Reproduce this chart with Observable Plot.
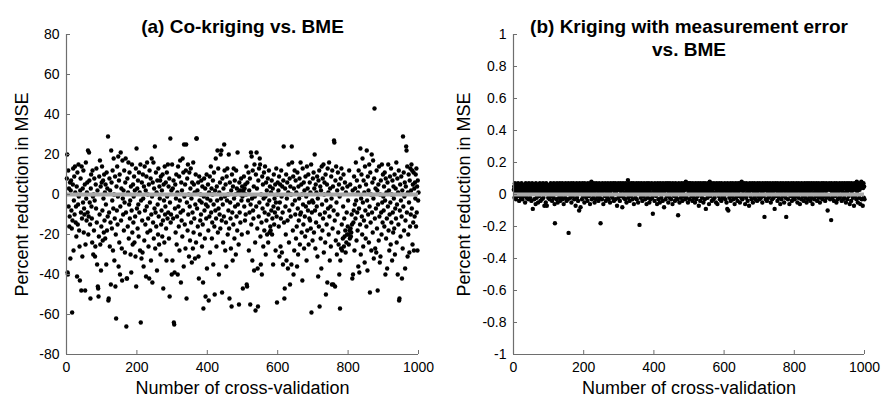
<!DOCTYPE html>
<html><head><meta charset="utf-8">
<script src="https://cdn.jsdelivr.net/npm/d3@7"></script>
<script src="https://cdn.jsdelivr.net/npm/@observablehq/plot@0.6"></script>
<style>
html,body{margin:0;padding:0;background:#fff;}
#wrap{position:relative;width:885px;height:411px;overflow:hidden;font-family:"Liberation Sans",Arial,sans-serif;}
#wrap svg{position:absolute;top:0;}
</style></head><body><div id="wrap"></div>
<script>
// Panel titles and axis labels
const titleA = "(a) Co-kriging vs. BME";
const titleB1 = "(b) Kriging with measurement error";
const titleB2 = "vs. BME";
const xLabel = "Number of cross-validation";
const yLabel = "Percent reduction in MSE";

// Axis ticks / domains
const xDomain = [0, 1000];
const xTicks = [0, 200, 400, 600, 800, 1000];
const yDomainA = [-80, 80];
const yTicksA = [-80, -60, -40, -20, 0, 20, 40, 60, 80];
const yDomainB = [-1, 1];
const yTicksB = [-1, -0.8, -0.6, -0.4, -0.2, 0, 0.2, 0.4, 0.6, 0.8, 1];

// (a) Co-kriging vs. BME: percent reduction in MSE, cross-validation 1..1000
const valuesA = [
8,20,-39,-40,12,-6,3,-16,-11,6,
-32,2,7,-8,-17,-59,-13,5,13,-28,
-3,9,-10,14,1,-14,-6,-21,4,-41,
11,-15,-5,15,-1,-18,-26,-43,2,8,
-9,-48,14,-12,-31,3,-4,12,-19,-7,
-10,5,-48,-25,16,-2,-13,1,6,-9,
22,-20,-11,21,7,-4,-15,-52,3,10,
-6,-12,-24,12,-1,-30,0,-18,8,-3,
-31,-26,5,-7,13,-14,-35,2,-46,-47,
-51,-21,9,-10,17,-25,4,-38,-16,6,
14,-8,-23,7,-2,-19,10,-13,1,-22,
5,-5,-35,11,-18,3,-11,29,-53,-52,
-9,8,-26,2,-14,-45,22,6,-17,-3,
12,-28,-7,18,0,-33,-12,9,-46,-20,
-62,4,-8,14,-15,-1,19,-36,7,-24,
10,-40,-6,21,-13,3,-27,-43,17,-2,
-10,2,-18,12,-4,-29,6,18,-9,-66,
-42,-42,8,-16,1,16,-22,-5,11,-12,
-3,-30,4,-39,-8,15,-19,-25,5,-14,
-1,9,-24,2,-11,-31,13,-46,23,-7,
3,-17,7,-5,-21,11,-9,1,-28,15,
-64,-3,-32,6,-13,-29,10,-2,-36,4,
-23,14,-8,-15,2,-41,9,-6,16,-19,
0,-12,-26,5,-42,12,-4,-18,8,-33,
-10,18,-1,-44,6,-14,16,-22,3,-7,
24,-27,-9,11,-16,1,-38,7,-5,-20,
13,-11,-25,4,-2,7,-30,9,-15,-8,
2,-21,10,-13,-47,5,-3,-24,14,-10,
-6,6,-17,-33,11,-1,-12,15,-9,4,
-22,8,-51,-4,28,-14,-10,2,-40,15,
-33,3,-12,7,-64,-65,-39,-7,5,-19,
-2,10,-25,-11,1,-40,14,-6,-16,9,
-28,-3,17,-9,-44,6,-13,2,-21,18,
-8,11,-36,25,-1,-15,5,-27,12,25,
-52,-4,8,-18,15,-10,0,-31,11,-6,
-23,3,13,-14,-2,-34,6,-9,-27,16,
-19,5,-12,1,-32,-5,10,-24,28,28,
-7,2,-16,6,-31,-42,9,-3,-20,-13,
0,-10,7,-4,-26,4,-15,-44,-57,-1,
8,-8,-22,3,-51,-5,-12,10,-37,-2,
-6,5,-18,-53,1,-11,9,-29,-3,14,
-9,3,-22,-14,0,7,-35,-5,11,-16,
-50,2,-8,18,-12,-26,4,-3,22,-19,
13,-7,-40,1,-10,6,-17,20,-2,22,
-13,-49,8,-5,-24,3,-11,25,12,-1,
-28,5,-14,-36,9,-3,13,-20,0,-8,
20,-17,-52,6,-4,-12,-27,2,-56,10,
-9,-33,4,-15,13,-2,-22,7,-6,0,
-30,12,-11,3,-18,21,-5,1,-25,-55,
6,-9,2,-14,0,8,-3,-20,4,-1,
-47,2,1,9,-6,3,-13,5,-10,0,
14,-45,-46,6,-19,-3,11,-28,2,-9,
8,-55,-5,21,-15,19,-2,-33,12,-8,
-12,4,-38,15,-1,-24,-58,10,-6,21,
3,-17,-37,-56,7,-11,13,-4,18,15,
-21,-35,0,-14,-40,9,-7,5,-26,-2,
11,-18,-9,14,-1,-30,6,-13,2,-20,
-5,8,-24,-10,12,-3,-19,4,-16,-18,
1,-8,7,-20,-12,3,-35,-6,10,-15,
-2,-9,5,-28,-4,13,-11,-54,0,6,
-7,2,-16,9,-31,-4,5,-26,-12,12,
-1,-29,4,-9,-35,7,24,-14,-52,-47,
3,-6,-20,10,-33,-2,6,-13,-37,1,
15,-24,-8,8,-45,4,-11,0,-35,24,
16,-5,-18,9,-40,3,-28,12,-3,-10,
7,-22,1,-16,-36,11,-7,-30,4,-13,
-2,8,-25,-10,16,-9,5,-19,0,-43,
13,-5,-15,6,-27,2,-11,-21,9,-6,
-1,-33,14,-18,3,-8,10,-25,-4,-12,
6,-13,1,-17,15,-59,-9,-3,-23,8,
-4,11,-19,3,20,-8,-27,5,-14,1,
-6,9,-31,-2,-41,7,-16,12,-56,-10,
4,-22,2,-37,14,-5,-18,8,-12,15,
-29,0,6,-9,-24,10,-50,-3,-15,5,
-44,13,-7,1,-20,16,-11,-33,3,-6,
-26,9,-2,-45,12,-17,4,-45,-8,27,
26,-13,-46,7,-23,14,-4,-30,2,-10,
11,-19,-25,5,-40,-1,-57,-33,8,-27,
13,-15,-28,3,-22,-6,10,-26,-12,-21,
6,-18,-29,1,-24,-9,-20,4,-16,-3,
-20,-25,12,-18,-22,5,-17,-21,-19,-10,
-15,-42,2,-40,-14,-8,9,-28,-5,3,
-12,16,-3,-23,7,-9,-18,1,-36,12,
-7,-39,4,-15,23,-30,-2,10,-11,-20,
18,-4,-26,7,-13,1,-34,14,-8,-22,
5,-16,22,-3,-38,9,-10,2,-24,15,
-6,-49,11,-14,0,-28,20,-9,6,-19,
17,-2,-32,8,43,-12,-27,3,-7,-29,
12,-17,2,-48,-5,5,-23,14,-11,-34,
0,-31,7,-9,-20,15,-4,-14,10,-1,
-8,4,-16,11,-3,-40,8,-22,1,-12,
-37,6,-6,15,-18,2,-28,-10,9,-4,
-25,13,-14,0,-33,7,-9,-19,4,-2,
-17,10,-30,-7,3,-12,16,-24,-5,8,
-40,1,-15,12,-53,-52,-8,5,-21,-3,
9,-11,-42,2,-27,29,-6,11,-18,-1,
6,-37,-13,4,24,22,-9,14,-31,1,
-20,10,-4,-29,7,-16,13,-10,2,15,
-7,12,-25,5,-14,11,-28,3,-11,6,
-2,10,-16,13,-9,4,-28,7,-3,1
];

// (b) Kriging with measurement error vs. BME
const valuesB = [
.03,.05,-.02,.07,.04,.01,-.03,.06,.02,.05,
.04,-.01,.07,.03,.06,-.04,.02,.05,.01,.06,
-.02,.04,.07,.03,-.03,.05,.02,.06,-.01,.04,
.06,.01,-.05,.03,.07,.05,-.02,.04,.02,.06,
.03,-.03,.05,.07,.01,.04,-.02,.06,.03,.05,
-.04,.02,.07,.05,-.09,.04,.01,.06,-.03,.03,
.05,.02,-.06,.07,.04,-.02,.06,.01,.05,-.05,
.03,.06,-.01,.04,.07,.02,-.04,.05,.03,.06,
-.03,.04,.01,.07,-.02,.05,.03,-.07,.06,.02,
.04,-.05,.07,.03,-.07,.05,.01,.06,-.02,.04,
.06,.03,-.03,.05,.02,.07,-.01,.04,.06,-.04,
.03,.05,.01,-.02,.07,.04,-.06,-.18,.05,.02,
.06,-.03,.04,.07,.01,-.05,.05,.03,.06,-.02,
.04,.07,-.04,.02,.05,.06,-.01,.03,.07,-.03,
.05,.02,-.06,.04,.06,.01,-.02,.07,.03,.05,
-.04,.06,.02,.04,-.03,.07,-.24,.05,.01,.06,
.03,-.02,.05,.07,-.05,.04,.02,.06,-.01,.03,
.07,.05,-.03,.01,.06,.04,-.07,.02,.05,.07,
-.02,.03,.06,-.04,.04,.01,-.10,.07,.05,.02,
-.08,.06,.03,.04,-.03,.07,.05,-.01,.02,.06,
.04,-.05,.07,.02,.05,.03,-.02,.06,.01,.04,
-.04,.07,.05,.03,-.01,.06,.02,-.06,.04,.07,
.05,.08,-.03,.03,.06,.01,-.02,.04,.07,.05,
-.05,.02,.06,.04,-.03,.07,.03,.05,-.01,.06,
.02,-.04,.04,.07,.05,-.02,.03,-.18,.06,.01,
.05,-.03,.07,.04,.02,-.06,.06,.03,.05,-.01,
.07,.04,-.04,.02,.06,.05,-.02,.03,.07,.01,
-.03,.05,.06,.04,-.05,.02,.07,.03,-.01,.06,
.04,-.02,.05,.07,.03,-.04,.06,.01,.05,.07,
-.03,.04,.02,.06,-.07,.05,.03,.07,-.02,.04,
.06,.03,-.04,.05,.07,.02,-.01,.04,.06,-.08,
.03,.07,.05,-.02,.04,.01,.06,-.03,.07,.05,
.02,-.05,.04,.06,.03,.09,-.02,.05,.07,.01,
-.04,.06,.03,.05,-.01,.07,.04,.02,-.03,.06,
.05,.07,-.06,.03,.04,.01,-.02,.06,.05,.07,
-.03,.02,.04,.06,-.05,.03,.07,.05,-.19,.01,
.04,.06,-.02,.07,.03,.05,-.04,.02,.06,.04,
-.01,.07,.05,.03,-.03,.06,.01,.04,-.06,.07,
.05,.02,-.02,.06,.04,.07,-.05,.03,.05,.01,
-.03,.06,.04,.07,-.02,.05,-.12,.03,.06,.02,
.04,-.04,.07,.05,.02,-.01,.06,.03,-.06,.05,
.07,.01,-.03,.04,.06,.02,-.05,.07,.05,.03,
-.02,.06,.04,.01,-.04,.07,.05,.03,-.08,.06,
.02,.05,-.03,.07,.04,.06,-.01,.03,.05,.07,
-.05,.02,.06,.04,-.02,.07,.03,.05,-.03,.01,
.06,.04,-.06,.07,.05,.02,-.01,.06,.03,-.04,
.05,.07,.01,-.02,.04,.06,-.03,.03,-.13,.05,
.07,.02,-.05,.06,.04,.01,-.02,.05,.07,.03,
-.04,.06,.04,.02,-.01,.07,.05,.03,-.03,.06,
.08,.04,-.02,.06,.03,.07,-.05,.05,.01,.07,
.06,-.03,.04,.07,.02,.05,-.01,.06,.03,-.04,
.07,.05,.01,-.02,.04,.06,-.05,.03,.07,.02,
-.03,.05,.06,.04,-.01,.07,.02,-.07,.05,.03,
.06,-.04,.07,.01,.04,.05,-.02,.03,.06,.07,
-.05,.02,.04,.06,-.03,.07,.05,-.09,.03,.01,
.06,.04,-.02,.07,.05,.03,-.06,.02,.08,.04,
-.01,.06,.05,.07,-.04,.03,.02,.06,-.03,.05,
.07,.04,-.02,.01,.06,.05,-.05,.03,.07,.02,
-.06,.04,.06,.05,-.01,.07,.03,-.03,.02,.06,
.05,-.04,.07,.04,.01,-.02,.06,.03,.05,-.01,
.04,.07,-.03,.05,.02,.06,-.05,.03,-.09,.07,
.01,-.10,.05,.04,-.02,.06,.03,.07,-.04,.02,
.05,.06,-.01,.04,.07,-.03,.03,.05,.02,-.06,
.06,.04,.07,-.02,.01,.05,.03,-.04,.06,.07,
-.01,.02,.05,.04,-.05,.07,.06,.03,-.02,.08,
.04,-.03,.06,.02,.05,-.01,.07,.03,.04,-.06,
.06,.05,-.02,.07,.01,.04,-.04,.03,.06,.05,
-.07,.02,.07,.04,-.01,.05,.06,-.03,.03,.07,
.04,-.05,.02,.06,.05,-.02,.07,.01,.04,-.03,
.06,.03,.05,-.04,.07,.02,-.01,.06,.04,.05,
-.03,.07,.03,.05,-.02,.06,.01,.04,-.05,.07,
.02,.05,-.01,.06,-.14,.03,.07,.04,-.03,.05,
.06,-.04,.02,.07,.05,-.02,.03,.06,.04,-.01,
.07,.01,-.05,.05,.03,.06,-.03,.04,.07,.02,
-.02,.05,.06,-.09,.04,.07,.03,-.01,.05,.06,
.02,-.04,.07,.04,.05,-.02,.03,.06,.01,-.06,
.07,.05,-.03,.04,.02,.06,-.01,.07,.03,.05,
-.05,.04,.06,.02,-.02,.07,-.14,.05,.03,.06,
.04,-.03,.07,.01,.05,-.06,.06,.03,-.01,.04,
.07,.02,-.04,.05,.06,.03,-.02,.07,.04,.01,
-.03,.06,.05,.03,-.01,.07,.04,.02,-.05,.06,
.05,-.02,.07,.03,.04,-.06,.06,.01,.05,-.03,
.07,.04,.02,-.01,.06,.05,-.04,.03,.07,.02,
-.02,.05,.06,.04,-.05,.07,.03,.01,-.03,.06,
.04,.07,-.01,.05,.02,-.04,.06,.03,.07,-.02,
.05,-.06,.04,.06,.01,.07,-.03,.05,.03,.04,
-.01,.06,.07,.02,-.04,.05,.03,.06,-.02,.07,
.04,.01,-.05,.06,.05,.03,-.02,.07,.04,.02,
-.03,.06,.05,.07,-.01,.03,.04,-.04,.06,.02,
.07,-.02,.05,.03,-.10,.06,.04,-.01,.07,.05,
.03,-.03,.06,.05,-.16,.07,.02,.04,-.02,.06,
.05,.01,-.04,.07,.03,.06,-.01,.05,.02,-.05,
.07,.04,.06,-.03,.03,.05,.02,-.02,.07,.04,
-.01,.06,.05,.03,-.04,.07,.02,.06,-.03,.05,
.04,-.02,.07,.01,.06,.05,-.05,.03,.04,.07,
-.03,.02,.06,.05,-.01,.07,.04,-.06,.03,.06,
.05,-.04,.07,.02,.04,.06,-.02,.03,.05,-.07,
.07,.04,-.01,.06,.03,.05,-.03,.08,.02,.06,
-.05,.04,.07,.05,-.02,.03,.06,-.06,.04,.07,
.08,-.03,.05,.06,-.07,.04,.07,-.02,.05,-.03
];

const FONT = '"Liberation Sans", Arial, sans-serif';
const fmt = d => String(d);

function panel({values, yDomain, yTicks, width, marginLeft, marginRight, titles, yLabelDx}) {
  const data = values.map((v, i) => ({n: i + 1, v}));
  const titleMarks = titles.map(t => Plot.text([t.text], {
    frameAnchor: "top", dy: t.dy, textAnchor: "middle", fontWeight: "bold", fontSize: 19, fill: "#000"
  }));
  return Plot.plot({
    width, height: 411,
    marginLeft, marginRight, marginTop: 34, marginBottom: 57,
    style: {fontFamily: FONT, fontSize: "14px", color: "#000", background: "transparent", overflow: "visible"},
    x: {domain: xDomain},
    y: {domain: yDomain},
    marks: [
      Plot.dot(data, {x: "n", y: "v", r: 2.2, fill: "#000", stroke: "none"}),
      Plot.ruleY([0], {stroke: "#a9a9a9", strokeWidth: 4}),
      Plot.ruleX([xDomain[0]], {stroke: "#6e6e6e", strokeWidth: 1.2}),
      Plot.ruleY([yDomain[0]], {stroke: "#6e6e6e", strokeWidth: 1.2}),
      Plot.axisX({ticks: xTicks, tickFormat: fmt, tickSize: -4, tickPadding: 12, stroke: "#6e6e6e", label: null, fontSize: 14}),
      Plot.axisY({ticks: yTicks, tickFormat: fmt, tickSize: -4, tickPadding: 11, stroke: "#6e6e6e", label: null, fontSize: 14}),
      ...titleMarks,
      Plot.text([xLabel], {frameAnchor: "bottom", dy: 39, textAnchor: "middle", fontSize: 18, fill: "#000"}),
      Plot.text([yLabel], {frameAnchor: "left", dx: yLabelDx, textAnchor: "middle", rotate: -90, fontSize: 18, fill: "#000"})
    ]
  });
}

const wrap = document.getElementById("wrap");
const a = panel({values: valuesA, yDomain: yDomainA, yTicks: yTicksA, width: 442, marginLeft: 66, marginRight: 24,
  titles: [{text: titleA, dy: -15}], yLabelDx: -44});
a.style.left = "0px";
wrap.appendChild(a);
const b = panel({values: valuesB, yDomain: yDomainB, yTicks: yTicksB, width: 445, marginLeft: 73, marginRight: 21,
  titles: [{text: titleB1, dy: -15}, {text: titleB2, dy: 8}], yLabelDx: -49});
b.style.left = "440px";
wrap.appendChild(b);
</script>
</body></html>
